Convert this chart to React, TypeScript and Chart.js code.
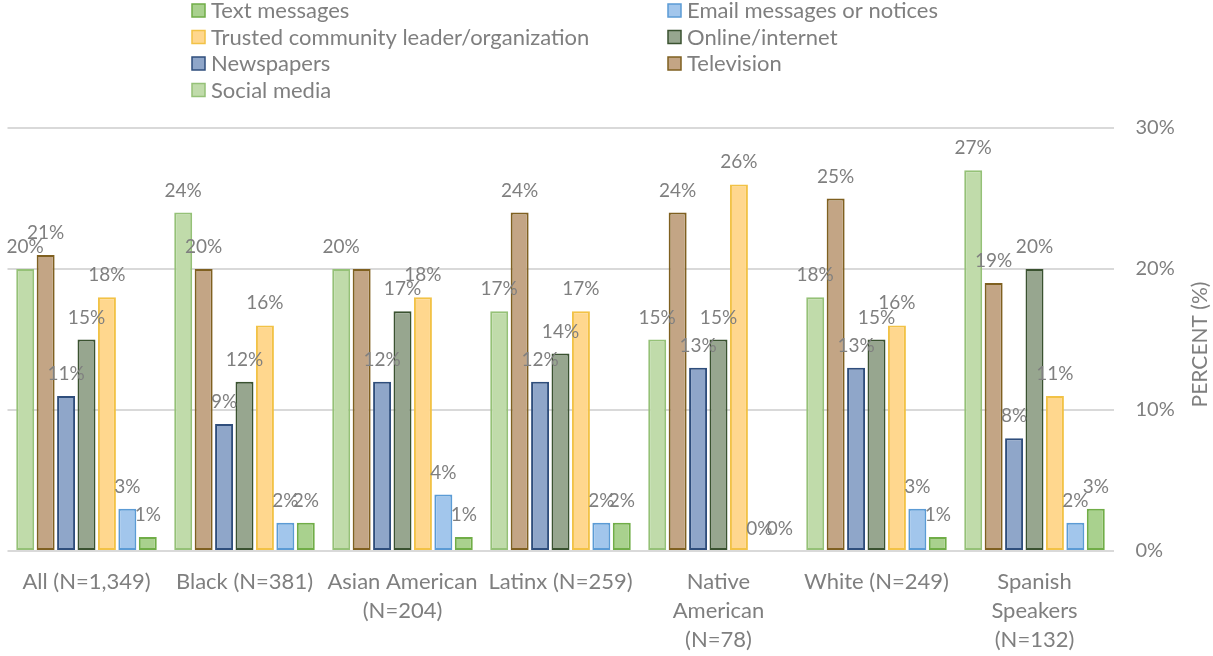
import React, { useEffect, useRef } from "react";
import { Chart, registerables } from "chart.js";

Chart.register(...registerables);

const categories: (string | string[])[] = [
  "All (N=1,349)",
  "Black (N=381)",
  ["Asian American", "(N=204)"],
  "Latinx (N=259)",
  ["Native", "American", "(N=78)"],
  "White (N=249)",
  ["Spanish", "Speakers", "(N=132)"],
];

const socialMedia = [20, 24, 20, 17, 15, 18, 27];
const television = [21, 20, 20, 24, 24, 25, 19];
const newspapers = [11, 9, 12, 12, 13, 13, 8];
const onlineInternet = [15, 12, 17, 14, 15, 15, 20];
const trustedLeader = [18, 16, 18, 17, 26, 16, 11];
const emailNotices = [3, 2, 4, 2, 0, 3, 2];
const textMessages = [1, 2, 1, 2, 0, 1, 3];

const yMin = 0;
const yMax = 30;
const yStep = 10;
const axisTitle = "PERCENT (%)";

const FONT = "Lato, 'Open Sans', sans-serif";
const GRAY = "#7f7f7f";

const legendPlugin = {
  id: "twoColLegend",
  afterDraw(chart: any) {
    const ctx = chart.ctx;
    const ds = [...chart.data.datasets].reverse();
    ctx.save();
    ctx.font = `22px ${FONT}`;
    ctx.textBaseline = "middle";
    ctx.textAlign = "left";
    const colX = [192, 668];
    const rowY = [10, 36.5, 63, 89.5];
    ds.forEach((d: any, i: number) => {
      const col = i % 2;
      const row = Math.floor(i / 2);
      const x = colX[col];
      const y = rowY[row];
      ctx.fillStyle = d.backgroundColor;
      ctx.fillRect(x, y - 6, 13, 13);
      ctx.strokeStyle = d.borderColor;
      ctx.lineWidth = 1.5;
      ctx.strokeRect(x, y - 6, 13, 13);
      ctx.fillStyle = GRAY;
      ctx.fillText(d.label, x + 19, y + 1);
    });
    ctx.restore();
  },
};

const dataLabelPlugin = {
  id: "barValueLabels",
  afterDatasetsDraw(chart: any) {
    const ctx = chart.ctx;
    ctx.save();
    ctx.font = `19px ${FONT}`;
    ctx.fillStyle = GRAY;
    ctx.textAlign = "center";
    ctx.textBaseline = "alphabetic";
    const drawn: { x: number; y: number; w: number }[] = [];
    chart.data.datasets.forEach((d: any, di: number) => {
      const meta = chart.getDatasetMeta(di);
      meta.data.forEach((el: any, i: number) => {
        const txt = `${d.data[i]}%`;
        const w = ctx.measureText(txt).width;
        const x = el.x;
        const y = el.y - 16;
        const clash = drawn.some((b) => {
          if (Math.abs(b.y - y) > 4) return false;
          const ov = Math.min(b.x + b.w / 2, x + w / 2) - Math.max(b.x - b.w / 2, x - w / 2);
          return ov > 0.3 * w;
        });
        if (clash) return;
        drawn.push({ x, y, w });
        ctx.fillText(txt, x, y);
      });
    });
    ctx.restore();
  },
};

const axisTitlePlugin = {
  id: "rightAxisTitle",
  afterDraw(chart: any) {
    const ctx = chart.ctx;
    const area = chart.chartArea;
    ctx.save();
    ctx.font = `21px ${FONT}`;
    ctx.fillStyle = GRAY;
    ctx.textAlign = "center";
    ctx.textBaseline = "middle";
    ctx.translate(1200, (area.top + area.bottom) / 2 + 5);
    ctx.rotate(-Math.PI / 2);
    ctx.fillText(axisTitle, 0, 0);
    ctx.restore();
  },
};

export default function App() {
  const ref = useRef<HTMLCanvasElement | null>(null);

  useEffect(() => {
    if (!ref.current) return;
    const mk = (label: string, data: number[], bg: string, border: string) => ({
      label,
      data,
      backgroundColor: bg,
      borderColor: border,
      borderWidth: 2,
      borderSkipped: false as const,
    });
    const chart = new Chart(ref.current, {
      type: "bar",
      data: {
        labels: categories as any,
        datasets: [
          mk("Social media", socialMedia, "#c0dbaa", "#95c177"),
          mk("Television", television, "#c3a585", "#7f6020"),
          mk("Newspapers", newspapers, "#8fa6c9", "#2f4e7c"),
          mk("Online/internet", onlineInternet, "#97a68f", "#3a5230"),
          mk("Trusted community leader/organization", trustedLeader, "#ffd78e", "#f2c246"),
          mk("Email messages or notices", emailNotices, "#a2c6ec", "#5b9bd5"),
          mk("Text messages", textMessages, "#a9d18e", "#70ad47"),
        ],
      },
      options: {
        animation: false,
        responsive: true,
        maintainAspectRatio: false,
        layout: { padding: { top: 128, left: 7.5, right: 0, bottom: 0 } },
        datasets: {
          bar: { categoryPercentage: 0.905, barPercentage: 0.88 },
        },
        plugins: {
          legend: { display: false },
          tooltip: { enabled: false },
          title: { display: false },
        },
        scales: {
          x: {
            grid: { display: false, drawTicks: false },
            border: { display: false },
            ticks: {
              autoSkip: false,
              maxRotation: 0,
              minRotation: 0,
              padding: 17,
              color: GRAY,
              font: { family: FONT, size: 22, lineHeight: 1.3 },
            },
            afterFit(scale: any) {
              scale.height = 105;
            },
          },
          y: {
            position: "right",
            min: yMin,
            max: yMax,
            grid: { color: "#d9d9d9", lineWidth: 2, drawTicks: false },
            border: { display: false },
            ticks: {
              stepSize: yStep,
              padding: 22,
              color: GRAY,
              font: { family: FONT, size: 20 },
              callback: (v: any) => `${v}%`,
            },
            afterFit(scale: any) {
              scale.width = 99.5;
            },
          },
        },
      },
      plugins: [dataLabelPlugin, legendPlugin, axisTitlePlugin],
    });
    return () => chart.destroy();
  }, []);

  return (
    <div style={{ position: "fixed", left: 0, top: 0, width: 1213, height: 656, background: "#fff" }}>
      <canvas ref={ref} />
    </div>
  );
}
